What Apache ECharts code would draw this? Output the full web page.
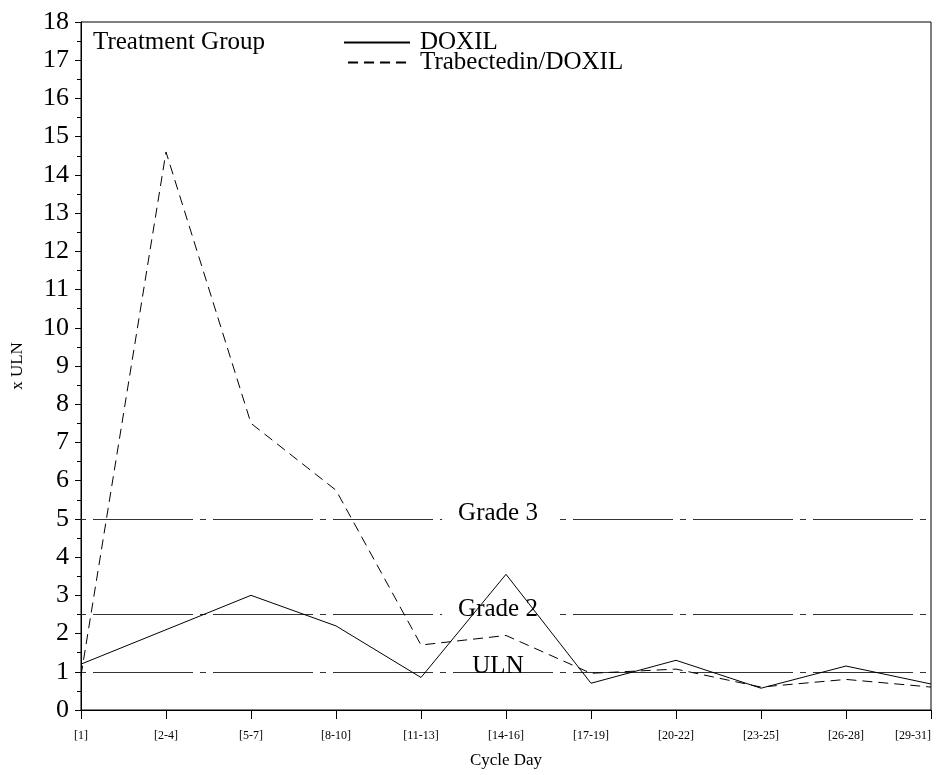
<!DOCTYPE html>
<html>
<head>
<meta charset="utf-8">
<script src="https://cdn.jsdelivr.net/npm/echarts@6/dist/echarts.min.js"></script>
<style>html,body{margin:0;padding:0;background:#fff}#c{width:936px;height:775px}</style>
</head>
<body>
<div id="c"></div>
<script>
const categories = ['[1]','[2-4]','[5-7]','[8-10]','[11-13]','[14-16]','[17-19]','[20-22]','[23-25]','[26-28]','[29-31]'];
const doxil = [1.2, 2.1, 3.0, 2.2, 0.85, 3.55, 0.7, 1.3, 0.57, 1.15, 0.68];
const trabDoxil = [0.9, 14.6, 7.5, 5.75, 1.7, 1.95, 0.96, 1.07, 0.6, 0.8, 0.6];
const refLevels = [5, 2.5, 1];
const refNames = ['Grade 3', 'Grade 2', 'ULN'];
const yTicks = [0, 18, 1];

const FONT = '"Liberation Serif", "Times New Roman", serif';
const chart = echarts.init(document.getElementById('c'));
const refData = refLevels.map((v, i) => ({
  yAxis: v,
  name: refNames[i],
  label: i < 2 ? {backgroundColor: '#fff', padding: [0, 16, 0, 16]} : {}
}));
chart.setOption({
  animation: false,
  backgroundColor: '#fff',
  textStyle: {fontFamily: FONT, color: '#000'},
  title: {
    text: 'Treatment Group', left: 88, top: 25,
    textStyle: {fontFamily: FONT, fontSize: 25, fontWeight: 'normal', color: '#000'}
  },
  legend: {
    orient: 'vertical', left: 338, top: 25, itemGap: -5,
    itemWidth: 66, itemHeight: 14,
    data: ['DOXIL', 'Trabectedin/DOXIL'],
    itemStyle: {opacity: 0},
    textStyle: {fontFamily: FONT, fontSize: 25, color: '#000', padding: [0, 0, 0, 5]}
  },
  grid: {left: 81, right: 5, top: 22, bottom: 65, show: true, borderColor: '#000', borderWidth: 1, outerBoundsMode: 'none', containLabel: false},
  xAxis: {
    type: 'category', data: categories, boundaryGap: false,
    name: 'Cycle Day', nameLocation: 'middle', nameGap: 42,
    nameTextStyle: {fontFamily: FONT, fontSize: 17, color: '#000'},
    axisLine: {lineStyle: {color: '#000', width: 1}},
    axisTick: {show: true, length: 9, alignWithLabel: true, lineStyle: {color: '#000'}},
    axisLabel: {fontFamily: FONT, fontSize: 12, color: '#000', margin: 20, interval: 0, alignMaxLabel: 'right'},
    splitLine: {show: false}
  },
  yAxis: {
    type: 'value', min: yTicks[0], max: yTicks[1], interval: yTicks[2],
    name: 'x ULN', nameLocation: 'middle', nameGap: 55,
    nameTextStyle: {fontFamily: FONT, fontSize: 17, color: '#000'},
    axisLine: {show: true, lineStyle: {color: '#000', width: 1}},
    axisTick: {show: true, length: 6, lineStyle: {color: '#000'}},
    minorTick: {show: true, splitNumber: 2, length: 4, lineStyle: {color: '#000'}},
    axisLabel: {fontFamily: FONT, fontSize: 26, color: '#000', margin: 12},
    splitLine: {show: false}
  },
  series: [
    {
      type: 'line', name: 'ref', data: [], z: 1, silent: true,
      markLine: {
        silent: true, symbol: ['none', 'none'], z: 1,
        lineStyle: {color: '#333', width: 1, type: [100, 7, 6, 7], dashOffset: 108},
        label: {show: true, position: 'middle', formatter: '{b}', fontFamily: FONT, fontSize: 25, color: '#000', distance: -7, offset: [-8, 0]},
        emphasis: {disabled: true},
        data: refData
      }
    },
    {
      type: 'line', name: 'DOXIL', data: doxil, z: 3,
      symbol: 'none', lineStyle: {color: '#000', width: 1, type: 'solid'},
      itemStyle: {color: '#000'}
    },
    {
      type: 'line', name: 'Trabectedin/DOXIL', data: trabDoxil, z: 3,
      symbol: 'none', lineStyle: {color: '#000', width: 1, type: [10, 6]},
      itemStyle: {color: '#000'}
    }
  ]
});
</script>
</body>
</html>
